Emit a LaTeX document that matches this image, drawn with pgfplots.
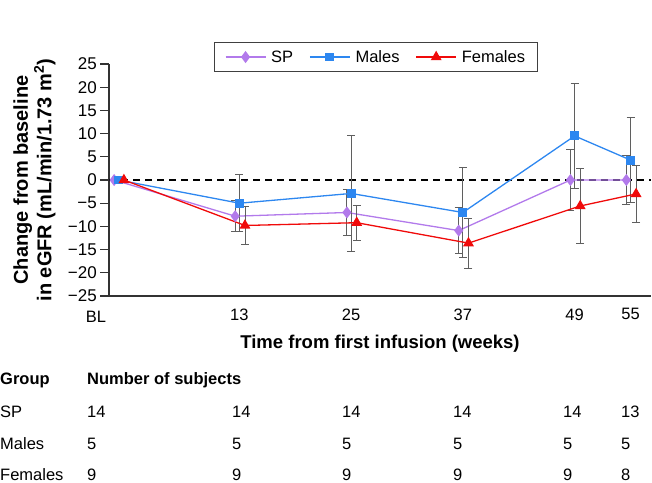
\documentclass[border=0pt]{standalone}
\usepackage{fontspec}
\setmainfont{Liberation Sans}
\usepackage{pgfplots}
\pgfplotsset{compat=1.18}
\definecolor{spcol}{RGB}{178,122,235}
\definecolor{macol}{RGB}{45,135,240}
\definecolor{fecol}{RGB}{240,10,10}
\definecolor{errcol}{RGB}{95,95,95}
\newcommand{\tabfont}{\fontsize{16.5}{19}\selectfont}
\pgfplotsset{
  myerr/.style={error bars/.cd, y dir=both, y explicit,
    error bar style={errcol, line width=0.9pt, solid},
    error mark options={rotate=90, errcol, mark size=4pt, line width=0.9pt, solid}},
}
\begin{document}
\begin{tikzpicture}
\path[use as bounding box] (0,0) rectangle (652pt,-482pt);
\begin{axis}[
  at={(109pt,-296pt)}, anchor=south west,
  width=542pt, height=232pt, scale only axis,
  xmin=-1, xmax=57.2, ymin=-25, ymax=25,
  axis lines=left,
  axis line style={-, line width=1.3pt, black!80},
  tick align=outside,
  major tick length=9pt,
  ytick={-25,-20,...,25},
  yticklabels={−25,−20,−15,−10,−5,0,5,10,15,20,25},
  ytick style={line width=1.1pt, black!80},
  xtick={13,25,37,49,55},
  xticklabels={13,25,37,49,55},
  xtick style={draw=none},
  yticklabel style={font=\fontsize{17}{19}\selectfont, inner xsep=3pt},
  xticklabel style={font=\fontsize{16.5}{19}\selectfont},
  xlabel={Time from first infusion (weeks)},
  ylabel={Change from baseline\\in eGFR (mL/min/1.73 m\textsuperscript{2})},
  xlabel style={font=\bfseries\fontsize{18.5}{22}\selectfont, at={(axis description cs:0.5,-0.207)}, anchor=center},
  ylabel style={font=\bfseries\fontsize{20}{23.5}\selectfont, align=center, at={(axis description cs:-0.1375,0.5)}, anchor=center},
  clip=false,
  legend columns=3,
  legend style={at={(axis description cs:0.4926,1.030)}, anchor=center, draw=black!75, line width=0.8pt,
    font=\fontsize{16.5}{19}\selectfont, inner xsep=10pt, inner ysep=6pt,
    /tikz/every even column/.append style={column sep=14pt},
    /tikz/every odd column/.append style={column sep=3pt}},
  legend image code/.code={\draw[mark repeat=2,mark phase=2] plot coordinates {(0pt,0pt) (20pt,0pt) (40pt,0pt)};},
]
\addplot[black, dash pattern=on 7pt off 5pt, line width=1.3pt, forget plot] coordinates {(-1,0) (57.2,0)};

\addplot[spcol, line width=1.3pt, mark=diamond*, mark size=5pt, mark options={fill=spcol, draw=spcol}, myerr] coordinates {
(-0.45,0) +- (0,0)
(12.55,-7.8) +- (0,3.3)
(24.55,-7.0) +- (0,5.0)
(36.55,-10.9) +- (0,5.0)
(48.55,0.0) +- (0,6.5)
(54.55,0.0) +- (0,5.3)
};
\addlegendentry{SP}

\addplot[macol, line width=1.3pt, mark=square*, mark size=3.8pt, mark options={fill=macol, draw=macol}, myerr] coordinates {
(0,0) +- (0,0)
(13,-5.0) +- (0,6.1)
(25,-2.9) +- (0,12.4)
(37,-7.0) +- (0,9.7)
(49,9.5) +- (0,11.3)
(55,4.3) +- (0,9.1)
};
\addlegendentry{Males}

\addplot[fecol, line width=1.3pt, mark=triangle*, mark size=5pt, mark options={fill=fecol, draw=fecol}, myerr] coordinates {
(0.6,0) +- (0,0)
(13.6,-9.8) +- (0,4.0)
(25.6,-9.2) +- (0,3.8)
(37.6,-13.6) +- (0,5.4)
(49.6,-5.6) +- (0,8.0)
(55.6,-3.0) +- (0,6.1)
};
\addlegendentry{Females}
\end{axis}

\node[anchor=base, font=\fontsize{16.5}{19}\selectfont] at (96pt,-322pt) {BL};

\node[anchor=base west, inner xsep=0pt, font=\tabfont\bfseries] at (0pt,-384pt) {Group};
\node[anchor=base west, inner xsep=0pt, font=\tabfont\bfseries] at (87pt,-384pt) {Number of subjects};

\foreach \lab/\yy/\a/\b/\c/\d/\e/\f in {SP/417/14/14/14/14/14/13, Males/449/5/5/5/5/5/5, Females/480/9/9/9/9/9/8}{
  \node[anchor=base west, inner xsep=0pt, font=\tabfont] at (0pt,-\yy pt) {\lab};
  \node[anchor=base west, inner xsep=0pt, font=\tabfont] at (87pt,-\yy pt) {\a};
  \node[anchor=base west, inner xsep=0pt, font=\tabfont] at (232pt,-\yy pt) {\b};
  \node[anchor=base west, inner xsep=0pt, font=\tabfont] at (342pt,-\yy pt) {\c};
  \node[anchor=base west, inner xsep=0pt, font=\tabfont] at (453pt,-\yy pt) {\d};
  \node[anchor=base west, inner xsep=0pt, font=\tabfont] at (563pt,-\yy pt) {\e};
  \node[anchor=base west, inner xsep=0pt, font=\tabfont] at (621pt,-\yy pt) {\f};
}
\end{tikzpicture}
\end{document}
